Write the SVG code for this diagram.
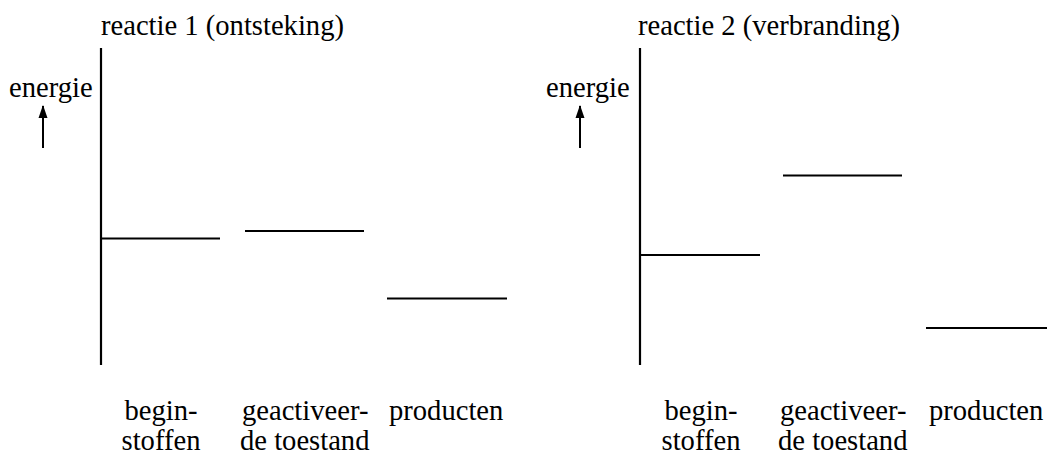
<svg xmlns="http://www.w3.org/2000/svg" width="1047" height="455" viewBox="0 0 1047 455">
<style>
.t{font-family:'Liberation Serif', 'Times New Roman', Times, serif;font-size:28.6px;fill:#000}
.ln{stroke:#000;stroke-width:2;fill:none}
.ax{stroke:#000;stroke-width:2.2;fill:none}
</style>
<rect width="1047" height="455" fill="#fff"/>
<g id="diagram1">
<text class="t" x="101" y="35">reactie 1 (ontsteking)</text>
<text class="t" x="9" y="97">energie</text>
<line class="ln" x1="43" y1="148" x2="43" y2="106"/>
<path d="M43 105 L47.5 118 L38.5 118 Z" fill="#000"/>
<line class="ax" x1="101" y1="48" x2="101" y2="365"/>
<g id="r1-begin"><line class="ln" x1="101" y1="238.5" x2="220" y2="238.5"/>
<text class="t" x="161" y="420" text-anchor="middle">begin-</text><text class="t" x="161" y="450" text-anchor="middle">stoffen</text></g>
<g id="r1-geact"><line class="ln" x1="245" y1="231" x2="364" y2="231"/>
<text class="t" x="242" y="420">geactiveer-</text><text class="t" x="240" y="450">de toestand</text></g>
<g id="r1-prod"><line class="ln" x1="387" y1="298.5" x2="507" y2="298.5"/>
<text class="t" x="389" y="420">producten</text></g>
</g>
<g id="diagram2">
<text class="t" x="638" y="35">reactie 2 (verbranding)</text>
<text class="t" x="546" y="97">energie</text>
<line class="ln" x1="580" y1="148" x2="580" y2="106"/>
<path d="M580 105 L584.5 118 L575.5 118 Z" fill="#000"/>
<line class="ax" x1="640" y1="48" x2="640" y2="365"/>
<g id="r2-begin"><line class="ln" x1="640" y1="255" x2="760" y2="255"/>
<text class="t" x="701" y="420" text-anchor="middle">begin-</text><text class="t" x="701" y="450" text-anchor="middle">stoffen</text></g>
<g id="r2-geact"><line class="ln" x1="783" y1="175.5" x2="902" y2="175.5"/>
<text class="t" x="780" y="420">geactiveer-</text><text class="t" x="778" y="450">de toestand</text></g>
<g id="r2-prod"><line class="ln" x1="926" y1="328" x2="1047" y2="328"/>
<text class="t" x="929" y="420">producten</text></g>
</g>
</svg>
